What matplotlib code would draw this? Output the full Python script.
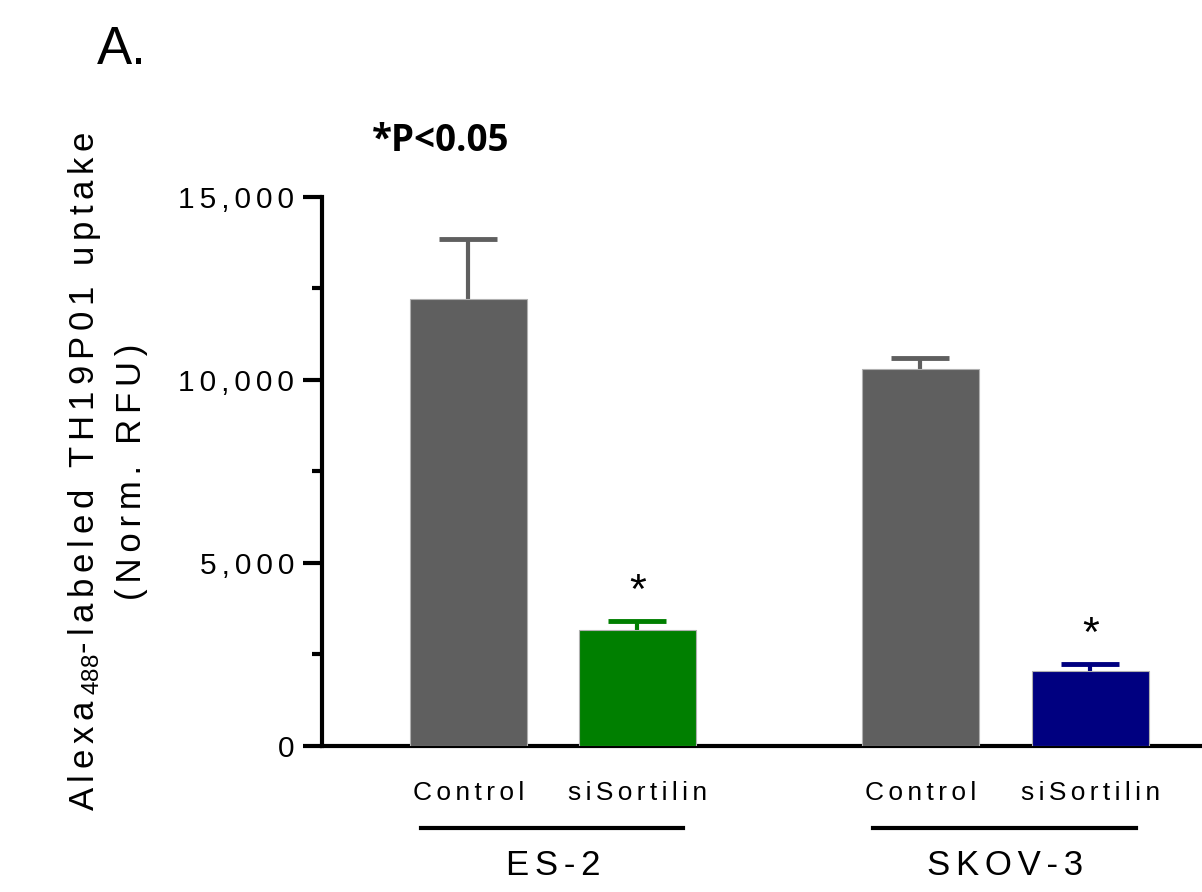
import matplotlib.pyplot as plt
import matplotlib.transforms as mtransforms
from matplotlib.ticker import FixedLocator, FuncFormatter

plt.rcParams['font.family'] = ['Liberation Sans', 'DejaVu Sans']
plt.rcParams['mathtext.fontset'] = 'custom'
plt.rcParams['mathtext.rm'] = 'Liberation Sans'
plt.rcParams['mathtext.it'] = 'Liberation Sans:italic'

# --- Data ---
groups = ["ES-2", "SKOV-3"]
conditions = ["Control", "siSortilin"]
values = [12200, 3170, 10300, 2050]
errors = [1650, 250, 300, 190]
colors = ['#5f5f5f', '#007f00', '#5f5f5f', '#000080']
significant = [False, True, False, True]

SP = '\u2006'  # six-per-em space, mimics the letter-spaced look


def spaced(s, sep=SP):
    return sep.join(s)


# bar positions: two pairs with a wider gap between the cell lines
x = [0, 1, 2.675, 3.68]
bar_width = 0.69

fig = plt.figure(figsize=(12.02, 8.92), dpi=100)
ax = fig.add_axes([0.268, 0.1637, 0.732, 0.6155])

for xi, v, e, c in zip(x, values, errors, colors):
    ax.bar(xi, v, width=bar_width, color=c, edgecolor='#b0b0b0', linewidth=0.8, zorder=3)
    # upper-only error bar: stem + single cap
    ax.errorbar(xi, v, yerr=[[0], [e]], color=c, capsize=0, elinewidth=3, zorder=2)
    ax.plot(xi, v + e, marker='_', markersize=42, markeredgewidth=3.5, color=c, zorder=2)

# significance stars
for xi, v, e, s in zip(x, values, errors, significant):
    if s:
        ax.text(xi, v + e + 250, '*', ha='center', va='bottom', fontsize=31)

ax.set_xlim(-0.864, 4.34)
ax.set_ylim(0, 15000)

for side in ['top', 'right']:
    ax.spines[side].set_visible(False)
for side in ['left', 'bottom']:
    ax.spines[side].set_linewidth(3)

ax.yaxis.set_major_locator(FixedLocator([0, 5000, 10000, 15000]))
ax.yaxis.set_minor_locator(FixedLocator([2500, 7500, 12500]))
ax.yaxis.set_major_formatter(FuncFormatter(lambda v, p: spaced(f"{int(v):,}")))
ax.tick_params(axis='y', which='major', length=14, width=3, labelsize=21.5, pad=6)
ax.tick_params(axis='y', which='minor', length=7, width=3)

ax.set_xticks(x)
ax.set_xticklabels([spaced(c) for c in conditions * 2])
ax.tick_params(axis='x', length=0, labelsize=19, pad=25)

ax.set_ylabel(spaced("Alexa") + SP + "$_{488}$" + spaced("-labeled TH19P01 uptake")
              + "\n" + spaced("(Norm. RFU)"), fontsize=25, linespacing=1.45)
ax.yaxis.set_label_coords(-0.198, 0.5)

# group lines and labels under the tick labels
trans = mtransforms.blended_transform_factory(ax.transData, ax.transAxes)
for gi, g in enumerate(groups):
    x0, x1 = x[2 * gi], x[2 * gi + 1]
    ax.plot([x0 - 0.28, x1 + 0.27], [-0.149, -0.149], color='black', lw=3,
            transform=trans, clip_on=False)
    ax.text((x0 + x1) / 2, -0.217, spaced(g), transform=trans, ha='center',
            va='center', fontsize=25)

fig.text(0.081, 0.944, "A.", fontsize=38, ha='left', va='center')
fig.text(0.309, 0.842, "*P<0.05", fontsize=26.5, fontweight='bold', ha='left',
         va='center', family=['Open Sans', 'DejaVu Sans'])

fig.savefig("out.png", dpi=100)
